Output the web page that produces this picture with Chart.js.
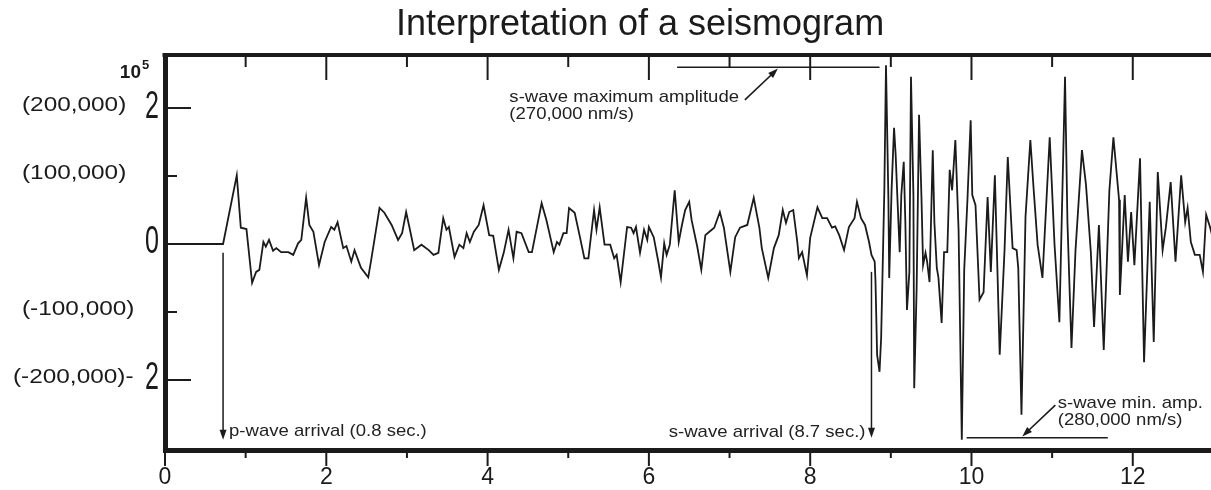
<!DOCTYPE html>
<html>
<head>
<meta charset="utf-8">
<title>Interpretation of a seismogram</title>
<script src="https://cdn.jsdelivr.net/npm/chart.js@4.4.1/dist/chart.umd.min.js"></script>
<style>
    html, body { margin: 0; padding: 0; background: #fff; }
</style>
</head>
<body>
<canvas id="seismoChart" width="1211" height="490"></canvas>
<script>
// time since start of record (s)
const seconds = [
    0, 0.72, 0.89, 0.94, 1.01, 1.08, 1.13, 1.17, 1.22, 1.25,
    1.29, 1.34, 1.38, 1.44, 1.53, 1.59, 1.65, 1.69, 1.75, 1.79,
    1.84, 1.91, 1.98, 2.06, 2.10, 2.14, 2.21, 2.25, 2.31, 2.35,
    2.43, 2.52, 2.56, 2.66, 2.72, 2.81, 2.89, 2.94, 2.99, 3.03,
    3.09, 3.18, 3.27, 3.33, 3.39, 3.45, 3.49, 3.52, 3.59, 3.65,
    3.70, 3.74, 3.78, 3.83, 3.89, 3.95, 4.02, 4.07, 4.14, 4.20,
    4.26, 4.32, 4.36, 4.42, 4.51, 4.55, 4.61, 4.67, 4.73, 4.82,
    4.86, 4.89, 4.94, 4.98, 5.01, 5.08, 5.14, 5.20, 5.25, 5.32,
    5.35, 5.39, 5.45, 5.52, 5.57, 5.60, 5.65, 5.73, 5.78, 5.81,
    5.84, 5.89, 5.94, 5.98, 6.00, 6.06, 6.12, 6.15, 6.19, 6.22,
    6.26, 6.32, 6.37, 6.41, 6.45, 6.50, 6.53, 6.60, 6.65, 6.70,
    6.75, 6.81, 6.88, 6.93, 7.01, 7.07, 7.13, 7.22, 7.30, 7.37,
    7.40, 7.48, 7.55, 7.61, 7.66, 7.70, 7.74, 7.79, 7.84, 7.86,
    7.90, 7.96, 8.00, 8.09, 8.15, 8.21, 8.27, 8.31, 8.36, 8.42,
    8.48, 8.55, 8.58, 8.63, 8.68, 8.73, 8.76, 8.80, 8.81, 8.83,
    8.86, 8.88, 8.92, 8.94, 8.97, 8.98, 9.01, 9.04, 9.06, 9.08,
    9.11, 9.13, 9.16, 9.18, 9.20, 9.23, 9.25, 9.28, 9.29, 9.32,
    9.35, 9.38, 9.40, 9.43, 9.45, 9.48, 9.52, 9.54, 9.57, 9.59,
    9.63, 9.66, 9.70, 9.73, 9.76, 9.80, 9.84, 9.88, 9.91, 9.95,
    9.99, 10.01, 10.05, 10.10, 10.15, 10.20, 10.24, 10.29, 10.35, 10.41,
    10.45, 10.51, 10.56, 10.58, 10.62, 10.67, 10.73, 10.77, 10.82, 10.88,
    10.97, 11.03, 11.09, 11.16, 11.19, 11.24, 11.29, 11.37, 11.42, 11.48,
    11.52, 11.58, 11.64, 11.71, 11.76, 11.83, 11.84, 11.90, 11.94, 11.98,
    12.02, 12.09, 12.14, 12.21, 12.26, 12.31, 12.37, 12.41, 12.47, 12.53,
    12.60, 12.65, 12.68, 12.72, 12.77, 12.83, 12.87, 12.91, 12.96, 12.99
];

// ground velocity, in units of 10^5 nm/s
const amplitude = [
    0, 0, 1.01, 0.24, 0.22, -0.57, -0.41, -0.38, 0.03, -0.04,
    0.06, -0.10, -0.06, -0.12, -0.12, -0.16, 0.01, 0.06, 0.68, 0.28,
    0.18, -0.31, 0.03, 0.25, 0.21, 0.32, -0.06, -0.03, -0.26, -0.09,
    -0.35, -0.49, -0.21, 0.53, 0.46, 0.28, 0.06, 0.16, 0.47, 0.25,
    -0.09, -0.01, -0.09, -0.16, -0.13, 0.38, 0.21, 0.25, -0.19, -0.01,
    -0.06, 0.16, 0.03, 0.18, 0.28, 0.57, 0.13, 0.12, -0.38, -0.13,
    0.21, -0.21, 0.18, 0.16, -0.12, -0.12, 0.24, 0.60, 0.35, -0.12,
    0.03, -0.01, 0.16, 0.16, 0.53, 0.46, 0.13, -0.21, -0.21, 0.50,
    0.21, 0.54, -0.01, -0.01, -0.21, -0.16, -0.56, 0.25, 0.24, 0.16,
    0.25, -0.13, 0.21, 0.06, 0.25, 0.10, -0.28, -0.49, 0.01, -0.16,
    -0.01, 0.79, 0.03, 0.28, 0.50, 0.62, 0.35, -0.04, -0.38, 0.13,
    0.18, 0.24, 0.47, 0.24, -0.41, 0.10, 0.24, 0.28, 0.68, 0.24,
    -0.06, -0.50, -0.06, 0.13, 0.50, 0.31, 0.47, 0.50, 0.03, -0.21,
    -0.12, -0.46, 0.09, 0.54, 0.38, 0.38, 0.24, 0.26, 0.13, -0.09,
    0.25, 0.38, 0.62, 0.38, 0.28, 0.03, -0.16, -0.26, -0.56, -1.63,
    -1.88, -1.38, 0.82, 2.63, 0.65, -0.50, 0.82, 1.71, 1.31, 0.72,
    -0.12, 0.72, 1.21, 0.32, -0.97, -0.41, 2.46, 0.72, -2.12, -0.65,
    1.90, 0.68, -0.31, -0.13, -0.26, -0.56, 1.38, 0.32, -0.35, -0.49,
    -1.16, -0.12, -0.12, 1.09, 0.79, 1.53, 0.21, -2.88, -0.38, 0.65,
    1.82, 0.72, 0.57, -0.82, -0.71, 0.69, -0.41, 1.01, -1.63, -0.09,
    1.28, -0.06, -0.09, -0.35, -2.51, 0.40, 1.53, 0.82, -0.01, -0.50,
    1.57, -0.01, -1.15, 2.46, 0.32, -1.53, -0.09, 1.38, 0.87, -0.12,
    -1.22, 0.28, -1.56, 0.79, 1.57, 0.65, -0.75, 0.72, -0.26, 0.47,
    -0.31, 1.26, -1.74, 0.62, -1.44, 1.06, -0.09, 0.24, 0.91, -0.26,
    1.01, 0.32, 0.53, 0.03, -0.16, -0.16, -0.41, 0.43, 0.24, 0.10
];

// axis labelling
const xTickLabels = [0, 2, 4, 6, 8, 10, 12];
const yTickValues = [2, 1, 0, -1, -2];
const yBigLabels = ['2', '', '0', '', '2'];
const yNmLabels = ['(200,000)', '(100,000)', '', '(-100,000)', '(-200,000)-'];

// picks
const pArrival = 0.72;
const sArrival = 8.76;
const maxAmpLevel = 2.6;
const maxAmpSpan = [6.35, 8.86];
const minAmpLevel = -2.85;
const minAmpSpan = [9.94, 11.69];

const INK = '#1b1b1b';
const FONT = '"Liberation Sans", Arial, sans-serif';

const trace = seconds.map((t, i) => ({ x: t, y: amplitude[i] }));
const maxAmpLine = maxAmpSpan.map(t => ({ x: t, y: maxAmpLevel }));
const minAmpLine = minAmpSpan.map(t => ({ x: t, y: minAmpLevel }));

// text drawn with a horizontal stretch, the scan is not square
function stretchText(ctx, txt, x, y, size, sx, align, weight) {
    ctx.save();
    ctx.font = (weight || 'normal') + ' ' + size + 'px ' + FONT;
    ctx.textBaseline = 'middle';
    ctx.textAlign = align || 'left';
    ctx.translate(x, y);
    ctx.scale(sx, 1);
    ctx.fillText(txt, 0, 0);
    ctx.restore();
}

function segment(ctx, x1, y1, x2, y2) {
    ctx.beginPath();
    ctx.moveTo(x1, y1);
    ctx.lineTo(x2, y2);
    ctx.stroke();
}

function arrow(ctx, x1, y1, x2, y2) {
    const ang = Math.atan2(y2 - y1, x2 - x1);
    const len = 10, half = 3.5;
    segment(ctx, x1, y1, x2 - 6 * Math.cos(ang), y2 - 6 * Math.sin(ang));
    ctx.beginPath();
    ctx.moveTo(x2, y2);
    ctx.lineTo(x2 - len * Math.cos(ang) + half * Math.sin(ang), y2 - len * Math.sin(ang) - half * Math.cos(ang));
    ctx.lineTo(x2 - len * Math.cos(ang) - half * Math.sin(ang), y2 - len * Math.sin(ang) + half * Math.cos(ang));
    ctx.closePath();
    ctx.fill();
}

const seismoDecor = {
    id: 'seismoDecor',
    afterDraw(chart) {
        const { ctx, chartArea: area, scales: { x, y } } = chart;
        ctx.save();
        ctx.strokeStyle = INK;
        ctx.fillStyle = INK;

        // title
        stretchText(ctx, 'Interpretation of a seismogram', 640, 25, 36, 1, 'center');

        // top frame line
        ctx.lineWidth = 4;
        segment(ctx, area.left - 2.5, area.top, area.right, area.top);

        // tick marks: top hanging down, bottom hanging below, left pointing in
        ctx.lineWidth = 2;
        for (let t = 0; t <= 12; t++) {
            const px = x.getPixelForValue(t);
            const major = t % 2 === 0;
            if (t > 0) segment(ctx, px, area.top, px, area.top + (major ? 25 : 12));
            segment(ctx, px, area.bottom, px, area.bottom + (major ? 16 : 8));
        }
        yTickValues.forEach(v => {
            if (v === 0) return;
            const py = y.getPixelForValue(v);
            segment(ctx, area.left, py, area.left + (Math.abs(v) === 2 ? 26 : 12), py);
        });

        // y labels: nm/s values in brackets and the big 10^5 digits
        yTickValues.forEach((v, i) => {
            const py = y.getPixelForValue(v);
            if (yNmLabels[i]) {
                const left = v === -2 ? 13 : 22;
                stretchText(ctx, yNmLabels[i], left, py - 3, 21, 1.16, 'left');
            }
            if (yBigLabels[i]) {
                stretchText(ctx, yBigLabels[i], area.left - 6, py - 1, 38, 0.66, 'right');
            }
        });
        stretchText(ctx, '10', 141, 73, 19, 1, 'right', 'bold');
        stretchText(ctx, '5', 142, 65, 13, 1, 'left', 'bold');

        // arrival arrows
        ctx.lineWidth = 1.5;
        const pX = x.getPixelForValue(pArrival);
        arrow(ctx, pX, y.getPixelForValue(-0.13), pX, y.getPixelForValue(-2.88));
        const sX = x.getPixelForValue(sArrival);
        arrow(ctx, sX, y.getPixelForValue(-0.41), sX, y.getPixelForValue(-2.85));

        // pointers to the amplitude levels
        ctx.lineWidth = 1.6;
        arrow(ctx, x.getPixelForValue(7.19), y.getPixelForValue(2.12),
              x.getPixelForValue(7.6), y.getPixelForValue(maxAmpLevel - 0.02));
        arrow(ctx, x.getPixelForValue(11.04), y.getPixelForValue(-2.37),
              x.getPixelForValue(10.63), y.getPixelForValue(minAmpLevel + 0.02));

        // annotation text
        ctx.fillStyle = '#222';
        stretchText(ctx, 'p-wave arrival (0.8 sec.)', pX + 6, y.getPixelForValue(-2.76), 17, 1.09, 'left');
        stretchText(ctx, 's-wave arrival (8.7 sec.)', sX - 6, y.getPixelForValue(-2.77), 17, 1.09, 'right');
        const maxTxtX = x.getPixelForValue(4.27);
        stretchText(ctx, 's-wave maximum amplitude', maxTxtX, y.getPixelForValue(2.16), 17, 1.09, 'left');
        stretchText(ctx, '(270,000 nm/s)', maxTxtX, y.getPixelForValue(1.91), 17, 1.09, 'left');
        const minTxtX = x.getPixelForValue(11.07);
        stretchText(ctx, 's-wave min. amp.', minTxtX, y.getPixelForValue(-2.34), 17, 1.09, 'left');
        stretchText(ctx, '(280,000 nm/s)', minTxtX, y.getPixelForValue(-2.6), 17, 1.09, 'left');

        ctx.restore();
    }
};

const seismoChart = new Chart(document.getElementById('seismoChart'), {
    type: 'line',
    data: {
        datasets: [{
            label: 'Seismogram',
            data: trace,
            borderColor: INK,
            borderWidth: 1.8,
            pointRadius: 0,
            tension: 0,
        }, {
            label: 's-wave maximum amplitude',
            data: maxAmpLine,
            borderColor: INK,
            borderWidth: 1.6,
            pointRadius: 0,
        }, {
            label: 's-wave min. amp.',
            data: minAmpLine,
            borderColor: INK,
            borderWidth: 1.6,
            pointRadius: 0,
        }]
    },
    options: {
        responsive: false,
        animation: false,
        layout: { padding: { top: 55, left: 0, right: 0, bottom: 0 } },
        plugins: {
            legend: { display: false },
            tooltip: { enabled: false },
            title: { display: false }
        },
        scales: {
            x: {
                type: 'linear',
                min: 0,
                max: 12.97,
                grid: { display: false, drawTicks: false },
                border: { display: true, width: 5, color: INK },
                ticks: {
                    stepSize: 2,
                    includeBounds: false,
                    autoSkip: false,
                    maxRotation: 0,
                    padding: 14,
                    color: '#1b1b1b',
                    font: { size: 23, family: FONT },
                    callback: v => xTickLabels.includes(v) ? String(v) : ''
                },
                afterFit: scale => { scale.height = 40; }
            },
            y: {
                min: -3.03,
                max: 2.78,
                grid: { display: false },
                ticks: { display: false },
                border: { display: true, width: 5, color: INK },
                afterFit: scale => { scale.width = 165; }
            }
        }
    },
    plugins: [seismoDecor]
});
</script>
</body>
</html>
